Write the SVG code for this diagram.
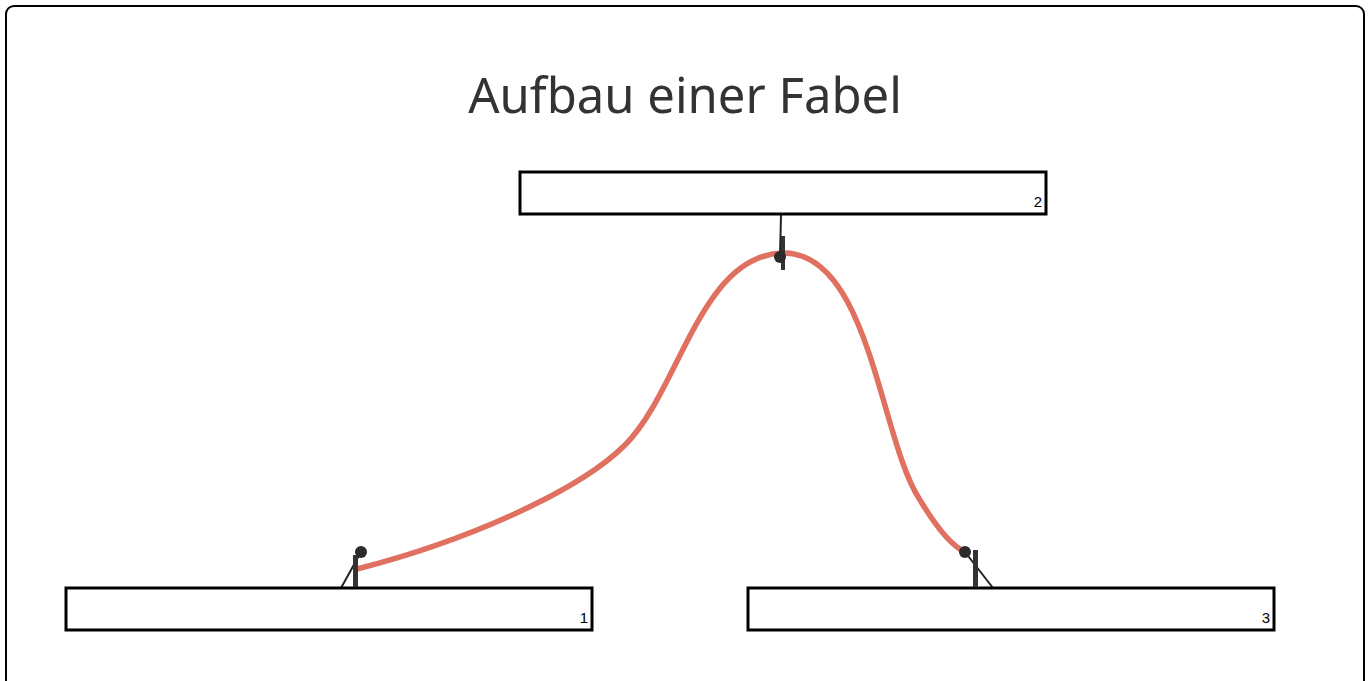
<svg xmlns="http://www.w3.org/2000/svg" width="1368" height="681" viewBox="0 0 1368 681">
<style>
.box{fill:#fff;stroke:#000;stroke-width:3}
.num{font-family:"Liberation Sans",Arial,sans-serif;font-size:15px;fill:#000;text-anchor:end}
.bar{fill:#333}
.dot{fill:#2b2b2b}
.lead{stroke:#222;stroke-width:2;fill:none}
</style>
<rect x="0" y="0" width="1368" height="681" fill="#fff"/>
<rect x="6" y="6" width="1358" height="700" rx="8" fill="#fff" stroke="#000" stroke-width="2"/>
<text x="685" y="113" font-family="'Noto Sans','Open Sans',sans-serif" font-size="49" fill="#333" text-anchor="middle">Aufbau einer Fabel</text>
<g id="connectors">
<path d="M357,569 C470,540 580,490 625,445 C680,390 700,255 783,253 C870,252 880,440 920,500 C935,525 950,545 965,552" fill="none" stroke="#e07060" stroke-width="5.5"/>
<line class="lead" x1="781" y1="215" x2="780" y2="257"/>
<line class="lead" x1="341" y1="588" x2="361" y2="552"/>
<line class="lead" x1="965" y1="552" x2="993" y2="588"/>
</g>
<g id="node2"><rect class="box" x="520" y="172" width="526" height="42"/><text class="num" x="1042" y="207">2</text></g>
<g id="node1"><rect class="box" x="66" y="588" width="526" height="42"/><text class="num" x="588" y="623">1</text></g>
<g id="node3"><rect class="box" x="748" y="588" width="526" height="42"/><text class="num" x="1270" y="623">3</text></g>
<g id="marker2"><rect class="bar" x="781" y="236" width="4" height="34"/><circle class="dot" cx="780" cy="257" r="6"/></g>
<g id="marker1"><rect class="bar" x="353" y="555" width="5" height="32"/><circle class="dot" cx="361" cy="552" r="6"/></g>
<g id="marker3"><rect class="bar" x="973" y="550" width="5" height="37"/><circle class="dot" cx="965" cy="552" r="6"/></g>
</svg>
